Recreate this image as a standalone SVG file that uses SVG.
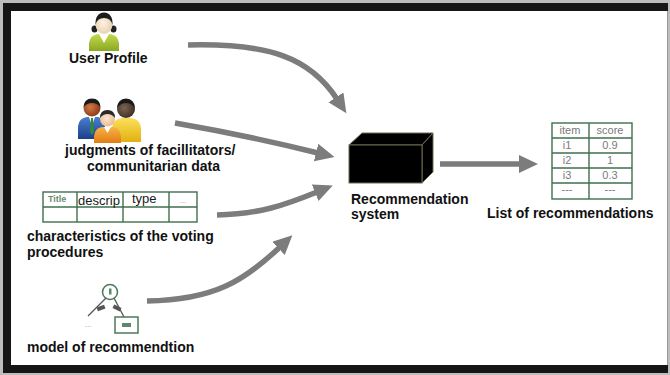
<svg xmlns="http://www.w3.org/2000/svg" width="670" height="375" viewBox="0 0 670 375">
  <style>
    .lbl { font-family: "Liberation Sans", Arial, sans-serif; font-weight: bold; font-size: 14px; fill: #111; }
    .cell { font-family: "Liberation Sans", Arial, sans-serif; font-size: 11px; fill: #7a7a7a; text-anchor: middle; }
    .grid { fill: none; stroke: #3f6f4d; stroke-width: 1.4; }
    .flow { fill: none; stroke: #7c7c7c; stroke-width: 5.5; marker-end: url(#head); }
  </style>
  <defs>
    <marker id="head" markerUnits="userSpaceOnUse" markerWidth="20" markerHeight="20" refX="2" refY="9" orient="auto">
      <path d="M0,0 L19,9 L0,18 Z" fill="#7c7c7c"/>
    </marker>
    <linearGradient id="lime" x1="0" y1="0" x2="0" y2="1">
      <stop offset="0" stop-color="#c4d94e"/>
      <stop offset="1" stop-color="#8aa822"/>
    </linearGradient>
    <radialGradient id="paleSkin" cx="0.45" cy="0.45" r="0.6">
      <stop offset="0" stop-color="#fdf3e3"/>
      <stop offset="1" stop-color="#e6cfae"/>
    </radialGradient>
    <radialGradient id="brownSkin" cx="0.4" cy="0.45" r="0.6">
      <stop offset="0" stop-color="#7a6450"/>
      <stop offset="1" stop-color="#3e3024"/>
    </radialGradient>
    <radialGradient id="tanSkin" cx="0.4" cy="0.45" r="0.6">
      <stop offset="0" stop-color="#d27a45"/>
      <stop offset="1" stop-color="#8a3a18"/>
    </radialGradient>
    <radialGradient id="lightSkin" cx="0.45" cy="0.45" r="0.6">
      <stop offset="0" stop-color="#fde6cf"/>
      <stop offset="1" stop-color="#e7b88f"/>
    </radialGradient>
    <linearGradient id="yellow" x1="0" y1="0" x2="0" y2="1">
      <stop offset="0" stop-color="#fbe05a"/>
      <stop offset="1" stop-color="#e2b010"/>
    </linearGradient>
    <linearGradient id="blue" x1="0" y1="0" x2="0" y2="1">
      <stop offset="0" stop-color="#4a7fd0"/>
      <stop offset="1" stop-color="#1d3f8a"/>
    </linearGradient>
    <linearGradient id="orange" x1="0" y1="0" x2="0" y2="1">
      <stop offset="0" stop-color="#f7b24a"/>
      <stop offset="1" stop-color="#e07d12"/>
    </linearGradient>
  </defs>

  <!-- frame -->
  <rect x="0" y="0" width="670" height="375" fill="#bdbdbd"/>
  <rect x="3" y="3" width="665" height="370" fill="#161616"/>
  <rect x="11" y="11" width="656" height="354" fill="#ffffff"/>
  <line x1="667.5" y1="11" x2="667.5" y2="365" stroke="#9a9a9a" stroke-width="1"/>

  <!-- user profile -->
  <g id="user-profile">
    <path d="M89,51 L89,43 Q90,35 98,34 L110,34 Q118,35 119,43 L119,51 Z" fill="url(#lime)"/>
    <path d="M99,34 L109,34 L104,43 Z" fill="#ffffff"/>
    <ellipse cx="94.5" cy="29" rx="3" ry="3.5" fill="#222"/>
    <ellipse cx="113.5" cy="29" rx="3" ry="3.5" fill="#222"/>
    <ellipse cx="104" cy="24" rx="8.5" ry="10" fill="url(#paleSkin)"/>
    <path d="M95.5,25 Q95,13 104,12.5 Q113,13 112.5,25 Q111,18 104,18 Q97,18 95.5,25 Z" fill="#1e1e1e"/>
    <text class="lbl" x="69" y="63">User Profile</text>
  </g>

  <!-- facilitators / community -->
  <g id="judgments">
    <!-- back right person -->
    <path d="M112,142 L112,128 Q113,119 122,118 L131,118 Q140,119 141,128 L141,142 Z" fill="url(#yellow)"/>
    <circle cx="126" cy="109" r="9" fill="url(#brownSkin)"/>
    <path d="M117,108 Q117.5,99 126,98.5 Q134.5,99 135,108 Q131,103 126,103 Q121,103 117,108 Z" fill="#1a1a1a"/>
    <!-- left man -->
    <path d="M78,139 L78,126 Q79,118 87,117 L98,117 Q105,118 105,126 L105,139 Z" fill="url(#blue)"/>
    <path d="M89,117 L95,117 L92,126 Z" fill="#ffffff"/>
    <path d="M91,118 L93,118 L94,132 L92,135 L90,132 Z" fill="#2e8a3c"/>
    <circle cx="92" cy="108" r="8.5" fill="url(#tanSkin)"/>
    <path d="M83.5,107 Q84,98.5 92,98.5 Q100,98.5 100.5,107 Q97,103 92,103 Q87,103 83.5,107 Z" fill="#1a1a1a"/>
    <!-- front person -->
    <path d="M94,143 L94,136 Q95,128 102,127 L113,127 Q120,128 121,136 L121,143 Z" fill="url(#orange)"/>
    <path d="M104,127 L111,127 L107.5,133 Z" fill="#ffffff"/>
    <circle cx="107.5" cy="119" r="7.5" fill="url(#lightSkin)"/>
    <path d="M100,118 Q100,110 107.5,110 Q115,110 115,118 Q112,114 107.5,114 Q103,114 100,118 Z" fill="#2a2a2a"/>
    <text class="lbl" x="65" y="155">judgments of facillitators/</text>
    <text class="lbl" x="87" y="171">communitarian data</text>
  </g>

  <!-- voting procedures table -->
  <g id="voting-procedures">
    <rect class="grid" x="43" y="192" width="154" height="30"/>
    <line class="grid" x1="43" y1="207" x2="197" y2="207"/>
    <line class="grid" x1="77" y1="192" x2="77" y2="222"/>
    <line class="grid" x1="123" y1="192" x2="123" y2="222"/>
    <line class="grid" x1="169" y1="192" x2="169" y2="222"/>
    <text x="48" y="202" font-family="Liberation Sans, Arial, sans-serif" font-size="9" font-weight="bold" fill="#6a8a70">Title</text>
    <text x="78" y="205" font-family="Liberation Sans, Arial, sans-serif" font-size="13" fill="#1a1a1a">descrip</text>
    <text x="132" y="203" font-family="Liberation Sans, Arial, sans-serif" font-size="13" fill="#1a1a1a">type</text>
    <text x="183" y="203" font-family="Liberation Sans, Arial, sans-serif" font-size="8" fill="#999" text-anchor="middle">...</text>
    <text class="lbl" x="27" y="241">characteristics of the voting</text>
    <text class="lbl" x="27" y="257">procedures</text>
  </g>

  <!-- recommendation model -->
  <g id="recommendation-model">
    <line x1="106" y1="298" x2="88" y2="316" stroke="#555" stroke-width="1.3"/>
    <line x1="114" y1="298" x2="124" y2="317" stroke="#555" stroke-width="1.3"/>
    <rect x="97" y="306" width="8" height="4" fill="#555" transform="rotate(-20 101 308)"/>
    <rect x="113" y="306" width="8" height="4" fill="#555" transform="rotate(25 117 308)"/>
    <circle cx="110" cy="292" r="7.5" fill="#fff" stroke="#4a7a5a" stroke-width="1.5"/>
    <rect x="109" y="288.5" width="2.5" height="6" fill="#5a8a6a"/>
    <rect x="115" y="317" width="23" height="16" fill="#fff" stroke="#4a7a5a" stroke-width="1.5"/>
    <rect x="122" y="323" width="9" height="4" fill="#5a8a6a"/>
    <text x="88" y="327" font-family="Liberation Sans, Arial, sans-serif" font-size="8" fill="#999" text-anchor="middle">...</text>
    <text class="lbl" x="27" y="352">model of recommendtion</text>
  </g>

  <!-- recommendation engine -->
  <g id="recommendation-system">
    <path d="M349,145 L362,133 L433,133 L422,145 Z" fill="#000" stroke="#6e6a50" stroke-width="1"/>
    <path d="M422,145 L433,133 L433,172 L422,183 Z" fill="#000" stroke="#6e6a50" stroke-width="1"/>
    <rect x="349" y="145" width="73" height="38" fill="#000" stroke="#6e6a50" stroke-width="1"/>
    <text class="lbl" x="351" y="204">Recommendation</text>
    <text class="lbl" x="351" y="219">system</text>
  </g>

  <!-- ranked output -->
  <g id="recommendation-list">
    <rect class="grid" x="552" y="123" width="80" height="76"/>
    <line class="grid" x1="589" y1="123" x2="589" y2="199"/>
    <line class="grid" x1="552" y1="138" x2="632" y2="138"/>
    <line class="grid" x1="552" y1="153" x2="632" y2="153"/>
    <line class="grid" x1="552" y1="168" x2="632" y2="168"/>
    <line class="grid" x1="552" y1="183" x2="632" y2="183"/>
    <text class="cell" x="570" y="134">item</text>
    <text class="cell" x="610" y="134">score</text>
    <text class="cell" x="567" y="149">i1</text>
    <text class="cell" x="610" y="149">0.9</text>
    <text class="cell" x="567" y="164">i2</text>
    <text class="cell" x="610" y="164">1</text>
    <text class="cell" x="567" y="179">i3</text>
    <text class="cell" x="610" y="179">0.3</text>
    <text class="cell" x="567" y="193" font-size="8">---</text>
    <text class="cell" x="610" y="193" font-size="8">---</text>
    <text class="lbl" x="487" y="218">List of recommendations</text>
  </g>

  <!-- connectors -->
  <g id="connectors">
    <path class="flow" d="M188,45 C270,43 310,58 337,99"/>
    <path class="flow" d="M175,123 Q250,136 318,153"/>
    <path class="flow" d="M217,215 C260,214 285,205 317,192"/>
    <path class="flow" d="M147,301 C215,300 245,280 280,247"/>
    <path class="flow" d="M440,164 L521,164"/>
  </g>
</svg>
